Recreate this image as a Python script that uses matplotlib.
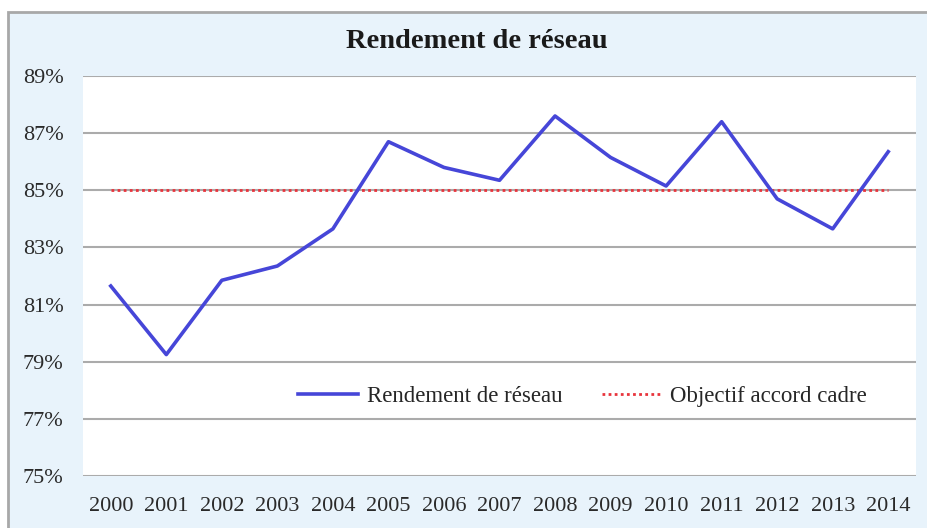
import matplotlib.pyplot as plt
from matplotlib.patches import Rectangle
from matplotlib.ticker import FuncFormatter

years = ['2000', '2001', '2002', '2003', '2004', '2005', '2006', '2007',
         '2008', '2009', '2010', '2011', '2012', '2013', '2014']
rendement = [81.65, 79.25, 81.85, 82.35, 83.65, 86.7, 85.8, 85.35,
             87.6, 86.15, 85.15, 87.4, 84.7, 83.65, 86.35]
objectif = [85.0] * len(years)
y_ticks = [75, 77, 79, 81, 83, 85, 87, 89]

plt.rcParams['font.family'] = ['Liberation Serif', 'DejaVu Serif']

fig = plt.figure(figsize=(9.28, 5.28), dpi=100)
fig.patch.set_facecolor('white')

# chart frame (light blue, cut at right/bottom like the screenshot)
W, H = 928.0, 528.0
frame = Rectangle((8 / W, -0.05), 1.0, (H - 12) / H + 0.05, transform=fig.transFigure,
                  facecolor='#e8f3fb', edgecolor='#a8a8a8', linewidth=2.0, zorder=-1)
fig.patches.append(frame)

ax = fig.add_axes([83 / W, 1 - 476 / H, (916 - 83) / W, (476 - 76) / H])
ax.set_zorder(1)
ax.set_facecolor('white')

x = list(range(len(years)))
ax.plot(x, rendement, color='#4646d8', linewidth=2.6, label='Rendement de réseau', zorder=3)
ax.plot(x, objectif, color='#e8343c', linewidth=2.0, linestyle=(0, (1, 1.2)),
        label='Objectif accord cadre', zorder=2)

ax.set_xlim(-0.5, len(years) - 0.5)
ax.set_ylim(75, 89)
ax.set_yticks(y_ticks)
ax.yaxis.set_major_formatter(FuncFormatter(lambda v, p: '%d%%' % v))
ax.set_xticks(x)
ax.set_xticklabels(years)
ax.tick_params(axis='both', length=0, labelsize=16, colors='#2a2a2a')
ax.tick_params(axis='y', pad=14)
ax.tick_params(axis='x', pad=15)
ax.grid(axis='y', color='#ababab', linewidth=1.5)
ax.set_axisbelow(True)
for s in ax.spines.values():
    s.set_visible(False)

fig.text(477 / W, 1 - 41 / H, 'Rendement de réseau', ha='center', va='center',
         fontsize=20.5, fontweight='bold', color='#1a1a1a')

leg = ax.legend(loc='center', bbox_to_anchor=(0.6, 0.2), ncol=2, frameon=False,
                fontsize=16.5, handlelength=2.6, columnspacing=1.7, handletextpad=0.4)
for t in leg.get_texts():
    t.set_color('#262626')

fig.savefig('out.png', dpi=100)
